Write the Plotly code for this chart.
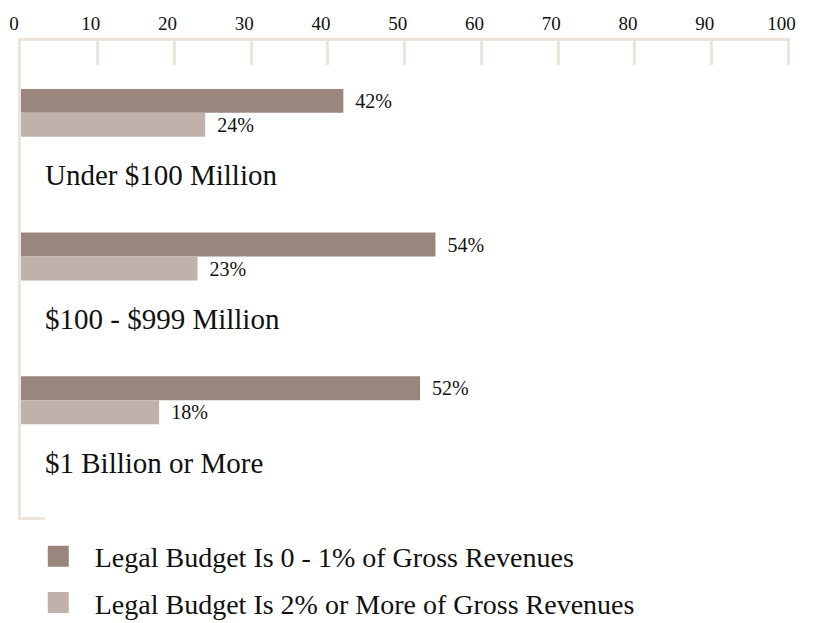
import plotly.graph_objects as go

categories = ["Under $100 Million", "$100 - $999 Million", "$1 Billion or More"]
series_names = [
    "Legal Budget Is 0 - 1% of Gross Revenues",
    "Legal Budget Is 2% or More of Gross Revenues",
]
low_budget = [42, 54, 52]
high_budget = [24, 23, 18]
x_ticks = [0, 10, 20, 30, 40, 50, 60, 70, 80, 90, 100]

colors = ["#9a867c", "#c0b2ab"]
axis_color = "#ebe5de"
font_family = "Liberation Serif, Times New Roman, serif"
text_color = "#111111"

n = len(categories)
group_step = 6
dark_pos = [2.5 + group_step * i for i in range(n)]
light_pos = [3.5 + group_step * i for i in range(n)]
label_pos = [5.6 + group_step * i for i in range(n)]

fig = go.Figure()
for vals, pos, col in [(low_budget, dark_pos, colors[0]), (high_budget, light_pos, colors[1])]:
    fig.add_trace(go.Bar(
        x=vals, y=pos, orientation="h", width=1,
        marker=dict(color=col, line=dict(width=0)),
        text=[f"\u00a0\u2009{v}%" for v in vals],
        textposition="outside", constraintext="none", cliponaxis=False,
        textfont=dict(family=font_family, size=20, color=text_color),
        showlegend=False, hoverinfo="skip",
    ))

# legend entries (square swatches)
for i, (name, col) in enumerate(zip(series_names, colors)):
    fig.add_trace(go.Scatter(
        x=[None], y=[None], mode="markers", name=name,
        marker=dict(symbol="square", size=16, color=col,
                    line=dict(color=col, width=5)),
        legendgroup=f"g{i}", showlegend=True,
    ))

for cat, yp in zip(categories, label_pos):
    fig.add_annotation(
        x=2.9, y=yp, xref="x", yref="y", text=cat, showarrow=False,
        xanchor="left", yanchor="middle",
        font=dict(family=font_family, size=29, color=text_color),
    )

# page body has an 8px margin; the figure is sized/placed to compensate
fig.update_layout(
    width=807, height=700,
    margin=dict(l=13, r=25, t=33, b=188),
    paper_bgcolor="white", plot_bgcolor="white",
    barmode="overlay",
    font=dict(family=font_family, color=text_color),
    xaxis=dict(
        side="top", range=[0, 100.2], tickvals=x_ticks,
        ticks="inside", ticklen=24, tickwidth=3, tickcolor=axis_color,
        showline=True, linecolor=axis_color, linewidth=3,
        showgrid=False, zeroline=False, automargin=False,
        tickfont=dict(family=font_family, size=19, color=text_color),
        ticklabelshift=-7, ticklabelstandoff=0,
    ),
    yaxis=dict(
        range=[20, 0], tickvals=[19.94], showticklabels=False,
        ticks="inside", ticklen=24, tickwidth=3, tickcolor=axis_color,
        showline=True, linecolor=axis_color, linewidth=3,
        showgrid=False, zeroline=False, automargin=False,
    ),
    legend=dict(
        x=0.001, xanchor="left", y=-0.024, yanchor="top",
        orientation="v", itemwidth=63, tracegroupgap=7,
        font=dict(family=font_family, size=28, color=text_color),
        bgcolor="rgba(0,0,0,0)",
    ),
)

fig.write_html("out.html")
